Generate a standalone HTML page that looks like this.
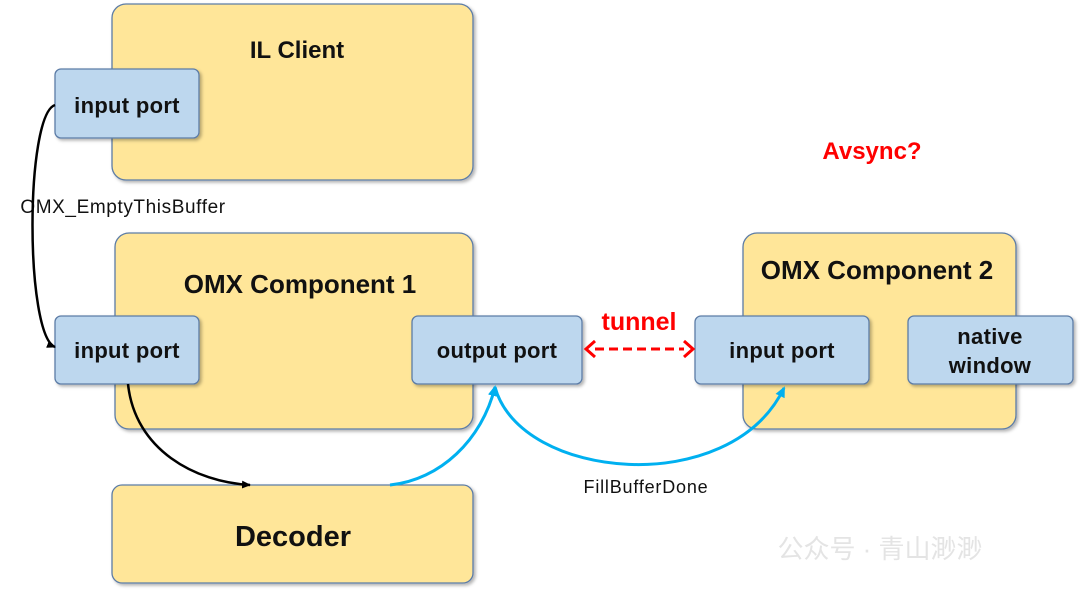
<!DOCTYPE html>
<html><head><meta charset="utf-8"><style>
html,body{margin:0;padding:0;background:#fff;}
svg{display:block;font-family:"Liberation Sans","Noto Sans CJK SC",sans-serif;}
</style></head><body>
<svg width="1080" height="593" viewBox="0 0 1080 593" xmlns="http://www.w3.org/2000/svg">
<defs>
<filter id="sh" x="-10%" y="-10%" width="130%" height="130%"><feDropShadow dx="2" dy="2" stdDeviation="1.5" flood-color="#000" flood-opacity="0.3"/></filter>
<marker id="ak" markerWidth="10" markerHeight="10" refX="8" refY="5" orient="auto" markerUnits="userSpaceOnUse"><path d="M0,1 L9,5 L0,9 z" fill="#000"/></marker>
<marker id="ab" markerWidth="12" markerHeight="12" refX="9" refY="6" orient="auto" markerUnits="userSpaceOnUse"><path d="M0,1 L11,6 L0,11 z" fill="#00b0f0"/></marker>
</defs>
<g fill="#ffe699" stroke="#5b7ba6" stroke-width="1.3" filter="url(#sh)">
<rect x="112" y="4" width="361" height="176" rx="14"/>
<rect x="115" y="233" width="358" height="196" rx="14"/>
<rect x="743" y="233" width="273" height="196" rx="14"/>
<rect x="112" y="485" width="361" height="98" rx="10"/>
</g>
<g fill="#bdd7ee" stroke="#5b7ba6" stroke-width="1.3" filter="url(#sh)">
<rect x="55" y="69" width="144" height="69" rx="6"/>
<rect x="55" y="316" width="144" height="68" rx="6"/>
<rect x="412" y="316" width="170" height="68" rx="6"/>
<rect x="695" y="316" width="174" height="68" rx="6"/>
<rect x="908" y="316" width="165" height="68" rx="6"/>
</g>
<g font-weight="bold" fill="#111" text-anchor="middle">
<text x="297" y="58" font-size="24">IL Client</text>
<text x="300" y="293" font-size="26">OMX Component 1</text>
<text x="877" y="279" font-size="26">OMX Component 2</text>
<text x="293" y="546" font-size="29">Decoder</text>
</g>
<g fill="#111" text-anchor="middle" font-size="22" font-weight="bold" letter-spacing="0.3">
<text x="127" y="113">input port</text>
<text x="127" y="358">input port</text>
<text x="497" y="358">output port</text>
<text x="782" y="358">input port</text>
<text x="990" y="344">native</text>
<text x="990" y="373">window</text>
</g>
<text x="872" y="159" font-size="24" font-weight="bold" fill="#f00" text-anchor="middle">Avsync?</text>
<text x="639" y="330" font-size="25" font-weight="bold" fill="#f00" text-anchor="middle">tunnel</text>
<text x="123" y="213" font-size="19" fill="#111" text-anchor="middle" letter-spacing="0.6">OMX_EmptyThisBuffer</text>
<text x="646" y="493" font-size="18" fill="#111" text-anchor="middle" letter-spacing="0.8">FillBufferDone</text>
<path d="M55,105 C25,115 25,335 55,347" fill="none" stroke="#000" stroke-width="2.5" marker-end="url(#ak)"/>
<path d="M128,384 C135,450 195,482 250,485" fill="none" stroke="#000" stroke-width="2.5" marker-end="url(#ak)"/>
<path d="M390,485 C440,480 482,440 495,387" fill="none" stroke="#00b0f0" stroke-width="3" marker-end="url(#ab)"/>
<path d="M495,387 C520,480 730,500 784,388" fill="none" stroke="#00b0f0" stroke-width="3" marker-end="url(#ab)"/>
<line x1="595" y1="349" x2="684" y2="349" stroke="#f00" stroke-width="3" stroke-dasharray="9,5"/>
<path d="M595,341 L586,349 L595,357" fill="none" stroke="#f00" stroke-width="3"/>
<path d="M684,341 L693,349 L684,357" fill="none" stroke="#f00" stroke-width="3"/>
<text x="880" y="558" font-size="26" fill="#e4e4e4" text-anchor="middle">公众号 · 青山渺渺</text>
</svg>
</body></html>
